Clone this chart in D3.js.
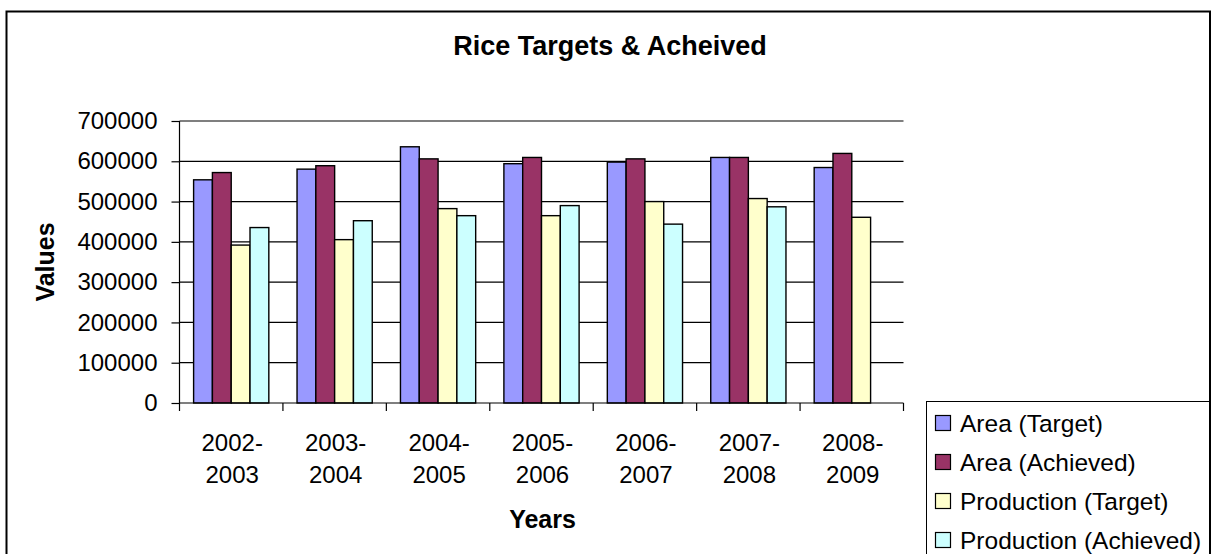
<!DOCTYPE html>
<html>
<head>
<meta charset="utf-8">
<script src="https://cdn.jsdelivr.net/npm/d3@7/dist/d3.min.js"></script>
<style>
  html, body { margin: 0; padding: 0; background: #fff; }
  svg { display: block; font-family: "Liberation Sans", Arial, sans-serif; }
</style>
</head>
<body>
<svg id="chart" width="1211" height="554"></svg>
<script>
// ---- data ----
const categories = [["2002-", "2003"], ["2003-", "2004"], ["2004-", "2005"], ["2005-", "2006"], ["2006-", "2007"], ["2007-", "2008"], ["2008-", "2009"]];
const seriesNames = ["Area (Target)", "Area (Achieved)", "Production (Target)", "Production (Achieved)"];
const areaTarget = [554000, 580500, 636000, 594000, 598000, 609500, 584500];
const areaAchieved = [572000, 589000, 606000, 609500, 606000, 609500, 619500];
const productionTarget = [392000, 405500, 482500, 465000, 500000, 507500, 461000];
const productionAchieved = [435500, 452500, 465000, 490000, 444000, 487000, null];
const yTicks = [0, 100000, 200000, 300000, 400000, 500000, 600000, 700000];
const titleText = "Rice Targets & Acheived";
const xTitle = "Years";
const yTitle = "Values";

const colors = ["#9999FF", "#993366", "#FFFFCC", "#CCFFFF"];
const seriesValues = [areaTarget, areaAchieved, productionTarget, productionAchieved];

// ---- layout ----
const svg = d3.select("#chart");
const plot = { left: 179.5, right: 903.5, top: 121, bottom: 403 };

// outer border
svg.append("rect")
  .attr("x", 6.5).attr("y", 11.5)
  .attr("width", 1203.5).attr("height", 600)
  .attr("fill", "#fff").attr("stroke", "#000").attr("stroke-width", 2);

const catKeys = categories.map(c => c.join(""));
const x0 = d3.scaleBand().domain(catKeys).range([plot.left, plot.right]).padding(0);
const band = x0.bandwidth();
const barW = band / (4 + 1.5);
const gap = band - 4 * barW;
const x1 = d3.scaleBand().domain(seriesNames).range([gap / 2, band - gap / 2]).padding(0);
const y = d3.scaleLinear().domain([0, 700000]).range([plot.bottom, plot.top]);

// gridlines
svg.append("g").selectAll("line")
  .data(yTicks.filter(t => t > 0))
  .join("line")
  .attr("x1", plot.left).attr("x2", plot.right)
  .attr("y1", d => y(d)).attr("y2", d => y(d))
  .attr("stroke", "#000").attr("stroke-width", 1.2);

// bars
const groups = svg.append("g").selectAll("g")
  .data(catKeys)
  .join("g")
  .attr("transform", d => `translate(${x0(d)},0)`);

groups.selectAll("rect")
  .data((d, i) => seriesNames.map((s, j) => ({ s, j, v: seriesValues[j][i] })).filter(o => o.v != null))
  .join("rect")
  .attr("x", d => x1(d.s))
  .attr("width", x1.bandwidth())
  .attr("y", d => y(d.v))
  .attr("height", d => y(0) - y(d.v))
  .attr("fill", d => colors[d.j])
  .attr("stroke", "#000").attr("stroke-width", 1.4);

// y axis
const yAxis = d3.axisLeft(y).tickValues(yTicks).tickSize(8).tickPadding(14).tickFormat(d3.format("d"));
const gy = svg.append("g").attr("transform", `translate(${plot.left},0)`).call(yAxis);
gy.select(".domain").attr("stroke", "#000").attr("stroke-width", 1.2).attr("d", `M0,${plot.top}V${plot.bottom}`);
gy.selectAll(".tick line").attr("stroke", "#000").attr("stroke-width", 1.2);
gy.selectAll(".tick text").attr("font-size", 24).attr("fill", "#000")
  .attr("font-family", "'Liberation Sans', Arial, sans-serif");

// x axis
svg.append("line")
  .attr("x1", plot.left).attr("x2", plot.right)
  .attr("y1", plot.bottom).attr("y2", plot.bottom)
  .attr("stroke", "#000").attr("stroke-width", 1.2);
const boundaries = catKeys.map(k => x0(k)).concat([plot.right]);
svg.append("g").selectAll("line")
  .data(boundaries)
  .join("line")
  .attr("x1", d => d).attr("x2", d => d)
  .attr("y1", plot.bottom).attr("y2", plot.bottom + 8)
  .attr("stroke", "#000").attr("stroke-width", 1.2);

const xl = svg.append("g").selectAll("text")
  .data(categories)
  .join("text")
  .attr("text-anchor", "middle")
  .attr("font-size", 24)
  .attr("fill", "#000");
xl.each(function(d, i) {
  const cx = x0(catKeys[i]) + band / 2 + 1;
  const t = d3.select(this);
  t.append("tspan").attr("x", cx).attr("y", 451).text(d[0]);
  t.append("tspan").attr("x", cx).attr("y", 483).text(d[1]);
});

// titles
svg.append("text")
  .attr("x", 610).attr("y", 55)
  .attr("text-anchor", "middle")
  .attr("font-size", 27).attr("font-weight", "bold")
  .text(titleText);

svg.append("text")
  .attr("x", (plot.left + plot.right) / 2 + 1).attr("y", 528)
  .attr("text-anchor", "middle")
  .attr("font-size", 25).attr("font-weight", "bold")
  .text(xTitle);

svg.append("text")
  .attr("transform", `translate(54,${(plot.top + plot.bottom) / 2}) rotate(-90)`)
  .attr("text-anchor", "middle")
  .attr("font-size", 25).attr("font-weight", "bold")
  .text(yTitle);

// legend
const legend = svg.append("g");
legend.append("rect")
  .attr("x", 926.5).attr("y", 401.5)
  .attr("width", 283).attr("height", 200)
  .attr("fill", "#fff").attr("stroke", "#000").attr("stroke-width", 1);

const items = legend.selectAll("g.item")
  .data(seriesNames)
  .join("g")
  .attr("class", "item")
  .attr("transform", (d, i) => `translate(935,${423 + i * 39})`);
items.append("rect")
  .attr("x", 0.5).attr("y", -7.5)
  .attr("width", 15).attr("height", 15)
  .attr("fill", (d, i) => colors[i])
  .attr("stroke", "#000").attr("stroke-width", 1.2);
items.append("text")
  .attr("x", 25).attr("y", 0).attr("dy", "0.36em")
  .attr("font-size", 24.5).attr("fill", "#000")
  .text(d => d);
</script>
</body>
</html>
